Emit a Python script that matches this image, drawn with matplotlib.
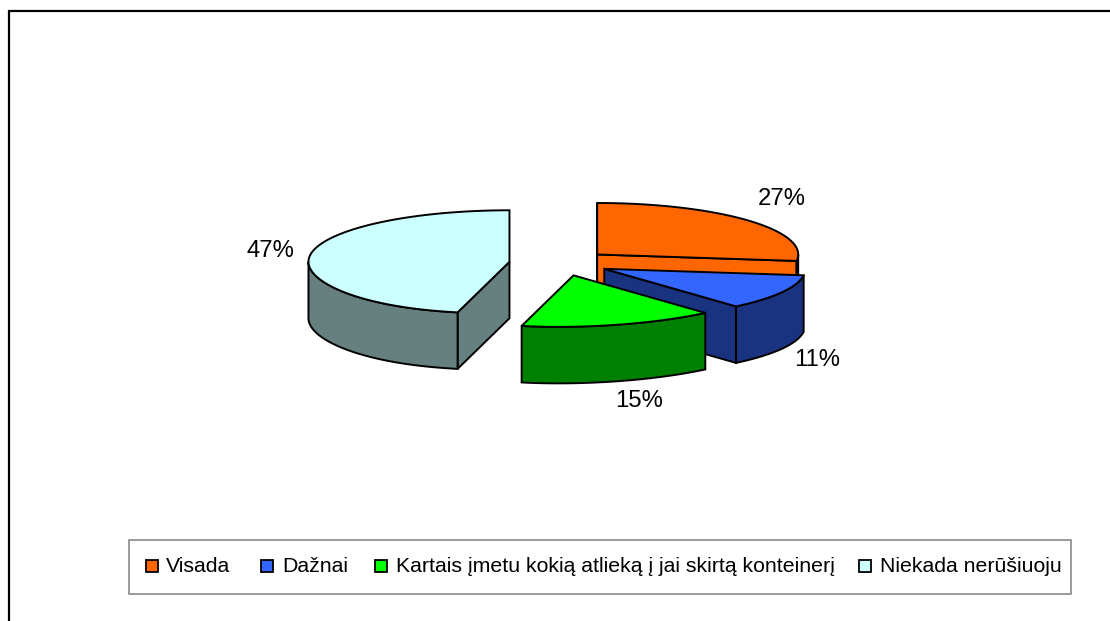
import numpy as np
import matplotlib
matplotlib.use("Agg")
import matplotlib.pyplot as plt
from matplotlib.patches import Polygon, Rectangle

# --- data ---
categories = ["Visada", "Dažnai", "Kartais įmetu kokią atlieką į jai skirtą konteinerį", "Niekada nerūšiuoju"]
values = [27, 11, 15, 47]

# --- style ---
top_colors = ["#FF6600", "#3366FF", "#00FF00", "#CCFFFF"]
outer_colors = ["#000000", "#1A3380", "#008000", "#668080"]
cut_colors = ["#FF6600", "#1A3380", "#008000", "#668080"]
label_xy = [(782, 199), (817, 360), (639, 401), (270, 251)]
legend_marker_x = [146, 261, 375, 859]
legend_text_x = [166, 282, 396, 880]

CX, CY = 559.5, 263
RX, RY = 201, 51.5
DEPTH = 56.5
EXPLODE = 0.25
SKEW = 15
LW = 1.4
plt.rcParams["font.family"] = ["Liberation Sans", "DejaVu Sans"]

fig = plt.figure(figsize=(11.10, 6.21), dpi=100, facecolor="white")
ax = fig.add_axes([0, 0, 1, 1])
ax.set_xlim(0, 1110)
ax.set_ylim(621, 0)
ax.axis("off")

# outer chart frame
ax.plot([9, 9, 1110], [621, 11, 11], color="black", lw=1.6, solid_joinstyle="miter")


def rim(theta_deg, apex):
    """Projected point on the slice rim for clockwise angle from 12 o'clock."""
    t = np.radians(theta_deg)
    s, c = np.sin(t), np.cos(t)
    shift = SKEW * np.where(c < 0, np.abs(c) ** 3, 0.0)
    return apex[0] + RX * s - shift, apex[1] - RY * c


def poly(xs, ys, color, z):
    ax.add_patch(Polygon(np.column_stack([xs, ys]), closed=True, facecolor=color,
                         edgecolor="black", lw=LW, joinstyle="miter", zorder=z))


def cut_face(apex, theta, color, z):
    x, y = rim(theta, apex)
    x, y = float(x), float(y)
    poly([apex[0], x, x, apex[0]], [apex[1], y, y + DEPTH, apex[1] + DEPTH], color, z)


frac = np.array(values) / sum(values) * 360
starts = np.concatenate([[0], np.cumsum(frac)[:-1]])
ends = np.cumsum(frac)

# paint back to front: left slice, Visada, Dažnai, Kartais
for order, i in enumerate([3, 0, 1, 2]):
    a0, a1 = starts[i], ends[i]
    mid = np.radians((a0 + a1) / 2)
    apex = (CX + EXPLODE * RX * np.sin(mid), CY - EXPLODE * RY * np.cos(mid))
    z = 2 + order

    # flat cut faces whose outward normal points to the viewer
    if np.cos(np.radians(a0 - 90)) < 1e-6:
        cut_face(apex, a0, cut_colors[i], z)
    if np.cos(np.radians(a1 + 90)) < 1e-6 and a1 < 359:
        cut_face(apex, a1, cut_colors[i], z)

    # visible part of the outer wall
    w0, w1 = max(a0, 90), min(a1, 270)
    if w1 > w0:
        th = np.linspace(w0, w1, 80)
        x, y = rim(th, apex)
        poly(np.r_[x, x[::-1]], np.r_[y, y[::-1] + DEPTH], outer_colors[i], z)

    # top face
    th = np.linspace(a0, a1, 160)
    x, y = rim(th, apex)
    poly(np.r_[apex[0], x], np.r_[apex[1], y], top_colors[i], z + 0.5)

    ax.text(*label_xy[i], f"{values[i]}%", fontsize=17.2, color="black",
            ha="center", va="center", zorder=10)

# legend box and entries (the reference spaces its entries unevenly)
ax.add_patch(Rectangle((129, 540), 942, 54, facecolor="white", edgecolor="#808080",
                       lw=1.1, zorder=11))
for name, color, mx, tx in zip(categories, top_colors, legend_marker_x, legend_text_x):
    ax.add_patch(Rectangle((mx, 559.5), 12, 12.5, facecolor=color, edgecolor="black",
                           lw=1.3, zorder=12))
    ax.text(tx, 571.5, name, fontsize=15.3, color="black", ha="left", va="baseline", zorder=12)

fig.savefig("out.png", dpi=100, facecolor="white")
